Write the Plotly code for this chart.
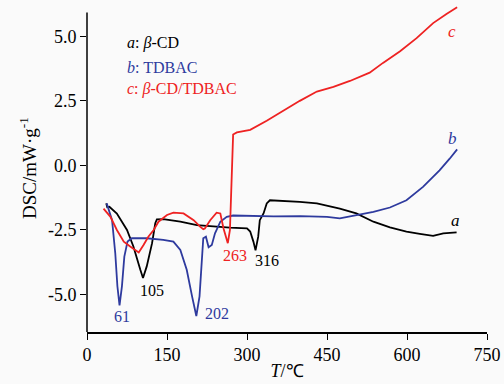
import plotly.graph_objects as go

# a: beta-CD (black)
a_T = [36, 38, 42, 56, 75, 87, 100, 105, 112, 122, 128, 131, 143, 175, 206, 237, 268, 300, 306, 312, 316, 321, 324, 331, 337, 343, 368, 399, 431, 462, 474, 505, 537, 568, 599, 624, 649, 668, 693]
a_Y = [-1.47, -1.62, -1.6, -1.86, -2.5, -3.14, -4.04, -4.36, -3.91, -3.01, -2.24, -2.09, -2.08, -2.18, -2.31, -2.37, -2.41, -2.44, -2.56, -2.95, -3.29, -2.76, -2.12, -1.86, -1.47, -1.35, -1.37, -1.41, -1.47, -1.6, -1.67, -1.86, -2.18, -2.4, -2.56, -2.65, -2.73, -2.63, -2.59]

# b: TDBAC (blue)
b_T = [37, 47, 53, 57, 61, 65.5, 70, 76, 84, 112, 143, 162, 175, 187, 197, 205, 211, 215, 218, 223, 228, 234, 240, 250, 262, 274, 300, 350, 400, 450, 474, 505, 537, 568, 599, 630, 661, 680, 694]
b_Y = [-1.47, -2.12, -3.4, -4.68, -5.42, -4.68, -3.53, -2.95, -2.82, -2.82, -2.88, -2.95, -3.27, -4.04, -5.07, -5.83, -5.07, -3.53, -2.82, -2.76, -3.17, -3.08, -2.63, -2.18, -1.99, -1.94, -1.95, -1.97, -1.96, -1.99, -2.05, -1.92, -1.8, -1.63, -1.35, -0.83, -0.19, 0.26, 0.62]

# c: beta-CD/TDBAC (red)
c_T = [31, 44, 56, 69, 81, 97, 106, 115, 125, 134, 150, 162, 181, 200, 212, 218, 221, 231, 243, 250, 256, 264, 268, 270, 272, 274, 281, 306, 337, 368, 399, 431, 462, 493, 530, 555, 587, 618, 649, 674, 694]
c_Y = [-1.67, -1.99, -2.5, -2.95, -3.14, -3.37, -3.08, -2.76, -2.5, -2.18, -1.92, -1.83, -1.86, -2.12, -2.37, -2.47, -2.44, -2.12, -1.83, -1.86, -2.44, -3.01, -2.5, -1.47, -0.19, 1.2, 1.28, 1.38, 1.73, 2.12, 2.5, 2.86, 3.04, 3.27, 3.59, 3.97, 4.42, 4.93, 5.51, 5.86, 6.12]

x_ticks = [0, 150, 300, 450, 600, 750]
y_ticks = [-5.0, -2.5, 0.0, 2.5, 5.0]

peak_labels = [  # (T, DSC, text, color)
    (66, -5.85, "61", "#2e3a9e"),
    (121, -4.85, "105", "black"),
    (244, -5.72, "202", "#2e3a9e"),
    (278, -3.5, "263", "#ee2222"),
    (338, -3.68, "316", "black"),
]

BLACK = "black"
BLUE = "#2e3a9e"
RED = "#ee2222"
FONT = "Liberation Serif"

fig = go.Figure()
fig.add_trace(go.Scatter(x=a_T, y=a_Y, mode="lines", line=dict(color=BLACK, width=1.8), showlegend=False))
fig.add_trace(go.Scatter(x=b_T, y=b_Y, mode="lines", line=dict(color=BLUE, width=1.8), showlegend=False))
fig.add_trace(go.Scatter(x=c_T, y=c_Y, mode="lines", line=dict(color=RED, width=1.8), showlegend=False))

for t, v, txt, col in peak_labels:
    fig.add_annotation(x=t, y=v, text=txt, showarrow=False, font=dict(family=FONT, size=16, color=col))

# legend texts
fig.add_annotation(x=71, y=4.74, text="<i>a</i>: <i>β</i>-CD", showarrow=False, xanchor="left",
                   font=dict(family=FONT, size=16, color=BLACK))
fig.add_annotation(x=71, y=3.78, text="<i>b</i>: TDBAC", showarrow=False, xanchor="left",
                   font=dict(family=FONT, size=16, color=BLUE))
fig.add_annotation(x=71, y=2.95, text="<i>c</i>: <i>β</i>-CD/TDBAC", showarrow=False, xanchor="left",
                   font=dict(family=FONT, size=16, color=RED))

# curve end labels
fig.add_annotation(x=684, y=5.2, text="<i>c</i>", showarrow=False, font=dict(family=FONT, size=17, color=RED))
fig.add_annotation(x=686, y=1.05, text="<i>b</i>", showarrow=False, font=dict(family=FONT, size=17, color=BLUE))
fig.add_annotation(x=690, y=-2.15, text="<i>a</i>", showarrow=False, font=dict(family=FONT, size=17, color=BLACK))

# left axis line (drawn as a shape so data can extend above it)
fig.add_shape(type="line", xref="paper", yref="y", x0=0, x1=0, y0=-6.45, y1=5.92,
              line=dict(color="black", width=1.5))

fig.update_layout(
    width=504, height=384,
    margin=dict(l=87, r=17, t=4, b=52),
    paper_bgcolor="#fafafa", plot_bgcolor="#fafafa",
    font=dict(family=FONT, size=18, color="black"),
    xaxis=dict(range=[0, 750], tickvals=x_ticks, ticktext=[str(v) for v in x_ticks],
               showgrid=False, zeroline=False, showline=True, linecolor="black", linewidth=1.5,
               ticks="outside", ticklen=6, tickwidth=1.2, tickcolor="black",
               tickfont=dict(family=FONT, size=18),
               title=dict(text="<i>T</i>/℃", font=dict(family=FONT, size=18), standoff=0)),
    yaxis=dict(range=[-6.45, 6.25], tickvals=y_ticks, ticktext=[f"{v:.1f}" for v in y_ticks],
               showgrid=False, zeroline=False, showline=False,
               ticks="outside", ticklen=6, tickwidth=1.2, tickcolor="black",
               tickfont=dict(family=FONT, size=18),
               title=dict(text="DSC/mW·g<sup>-1</sup>", font=dict(family=FONT, size=19), standoff=6)),
)

fig.write_html("out.html")
